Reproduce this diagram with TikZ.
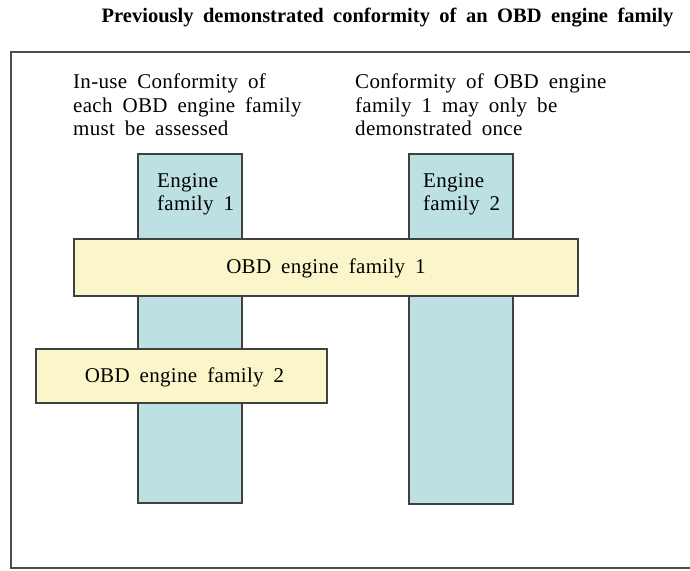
\documentclass[tikz,border=0pt]{standalone}
\usepackage{fontspec}
\setmainfont{Liberation Serif}
\newfontfamily\bodyfont[WordSpace=1.8,LetterSpace=1.5]{Liberation Serif}
\newfontfamily\titlefont[WordSpace=1.85]{Liberation Serif}
\begin{document}
\begin{tikzpicture}[x=1pt,y=-1pt,
  col/.style={draw=black!75,line width=1.6pt,fill=colblue},
  bar/.style={draw=black!75,line width=1.6pt,fill=baryellow},
  lbl/.style={font=\bodyfont\fontsize{21}{23.5}\selectfont,align=left,inner sep=0pt},
  lblc/.style={font=\bodyfont\fontsize{21}{23.5}\selectfont,inner sep=0pt}]
\definecolor{colblue}{HTML}{BDE0E3}
\definecolor{baryellow}{HTML}{FBF6C9}
\useasboundingbox (0,0) rectangle (690,570);
\node[font=\titlefont\bfseries\fontsize{20.5}{24}\selectfont,inner sep=0pt] (title) at (387.5,18) {Previously demonstrated conformity of an OBD engine family};
\draw[black!70,line width=1.8pt] (700,52) -- (11,52) -- (11,568) -- (700,568);
\node[col,minimum width=104,minimum height=349,inner sep=0pt] (c1) at (190,328.5) {};
\node[col,minimum width=104,minimum height=350,inner sep=0pt] (c2) at (461,329) {};
\node[bar,minimum width=504,minimum height=57,inner sep=0pt] (b1) at (326,267.5) {};
\node[bar,minimum width=291,minimum height=54,inner sep=0pt] (b2) at (181.5,376) {};
\node[lblc] at ([yshift=-1pt]b1.center) {OBD engine family 1};
\node[lblc] at ([xshift=3pt,yshift=-1pt]b2.center) {OBD engine family 2};
\node[lbl,anchor=north west] (t1) at (73,74) {In-use Conformity of\\each OBD engine family\\must be assessed};
\node[lbl,anchor=north west] (t2) at (355,74) {Conformity of OBD engine\\family 1 may only be\\demonstrated once};
\node[lbl,anchor=north west] (e1) at (157,173) {Engine\\family 1};
\node[lbl,anchor=north west] (e2) at (423,173) {Engine\\family 2};
\end{tikzpicture}
\end{document}
